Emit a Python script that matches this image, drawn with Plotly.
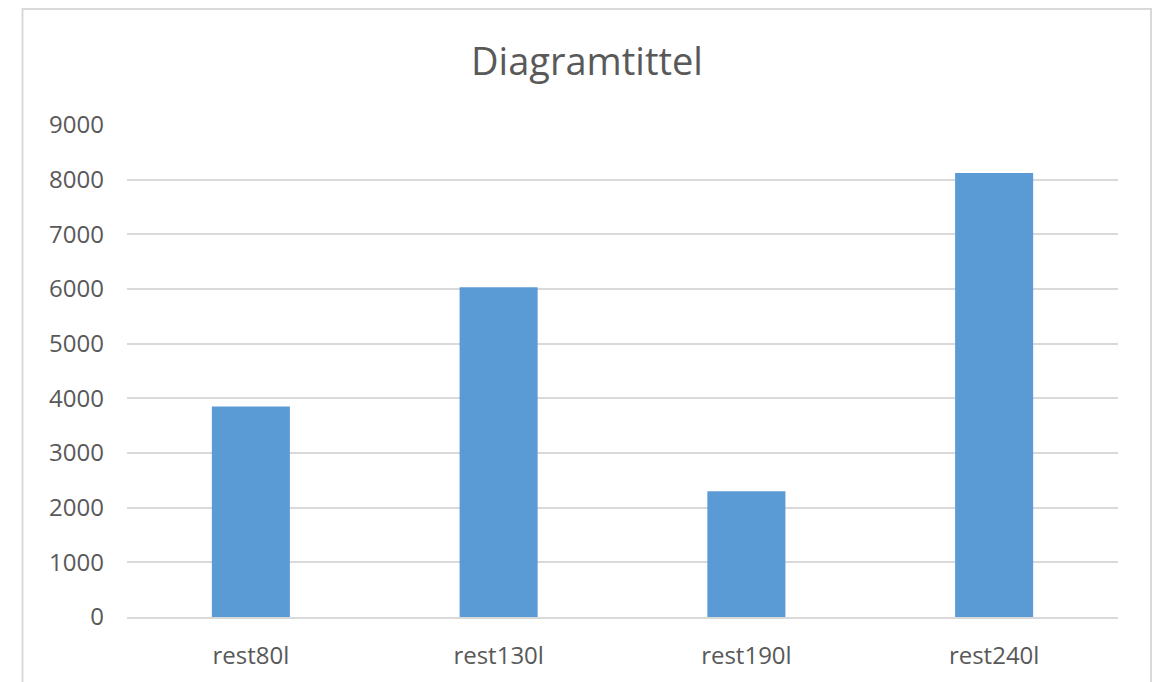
import plotly.graph_objects as go

# Category labels and values
categories = ["rest80l", "rest130l", "rest190l", "rest240l"]
values = [3850, 6030, 2300, 8120]
y_ticks = [0, 1000, 2000, 3000, 4000, 5000, 6000, 7000, 8000, 9000]

BAR = "#5b9bd5"
GRID = "#d9d9d9"
TEXT = "#595959"
FONT = "Open Sans, Lato, sans-serif"

W, H = 1154, 682
ML, MR, MT, MB = 127, 36, 125, 65
pw = W - ML - MR
ph = H - MT - MB

fig = go.Figure(
    go.Bar(
        x=categories,
        y=values,
        marker=dict(color=BAR, line=dict(width=0)),
        width=0.315,
        hoverinfo="x+y",
    )
)

# Light outer frame around the chart area
def px_x(p):
    return (p - ML) / pw

def px_y(p):
    return (H - MB - p) / ph

fig.add_shape(
    type="rect",
    xref="paper", yref="paper",
    x0=px_x(22.5), x1=px_x(1151),
    y0=px_y(700), y1=px_y(9),
    line=dict(color=GRID, width=2),
    fillcolor="rgba(0,0,0,0)",
    layer="below",
)

fig.update_layout(
    width=W,
    height=H,
    margin=dict(l=ML, r=MR, t=MT, b=MB),
    paper_bgcolor="white",
    plot_bgcolor="white",
    showlegend=False,
    font=dict(family=FONT, color=TEXT),
    title=dict(
        text="Diagramtittel",
        font=dict(family=FONT, size=38, color=TEXT),
        x=587 / W,
        xanchor="center",
        xref="container",
        y=1 - 62 / H,
        yanchor="middle",
        yref="container",
    ),
    xaxis=dict(
        type="category",
        range=[-0.5, 3.5],
        showgrid=False,
        showline=True,
        linecolor=GRID,
        linewidth=2,
        ticks="",
        tickfont=dict(family=FONT, size=24, color=TEXT),
        ticklabelstandoff=16,
        zeroline=False,
        automargin=False,
    ),
    yaxis=dict(
        range=[0, 9000],
        tickvals=y_ticks,
        ticktext=[str(v) for v in y_ticks],
        showgrid=True,
        gridcolor=GRID,
        gridwidth=2,
        zeroline=False,
        showline=False,
        ticks="",
        tickfont=dict(family=FONT, size=24, color=TEXT),
        ticklabelstandoff=22,
        automargin=False,
    ),
)

fig.write_html("out.html")
